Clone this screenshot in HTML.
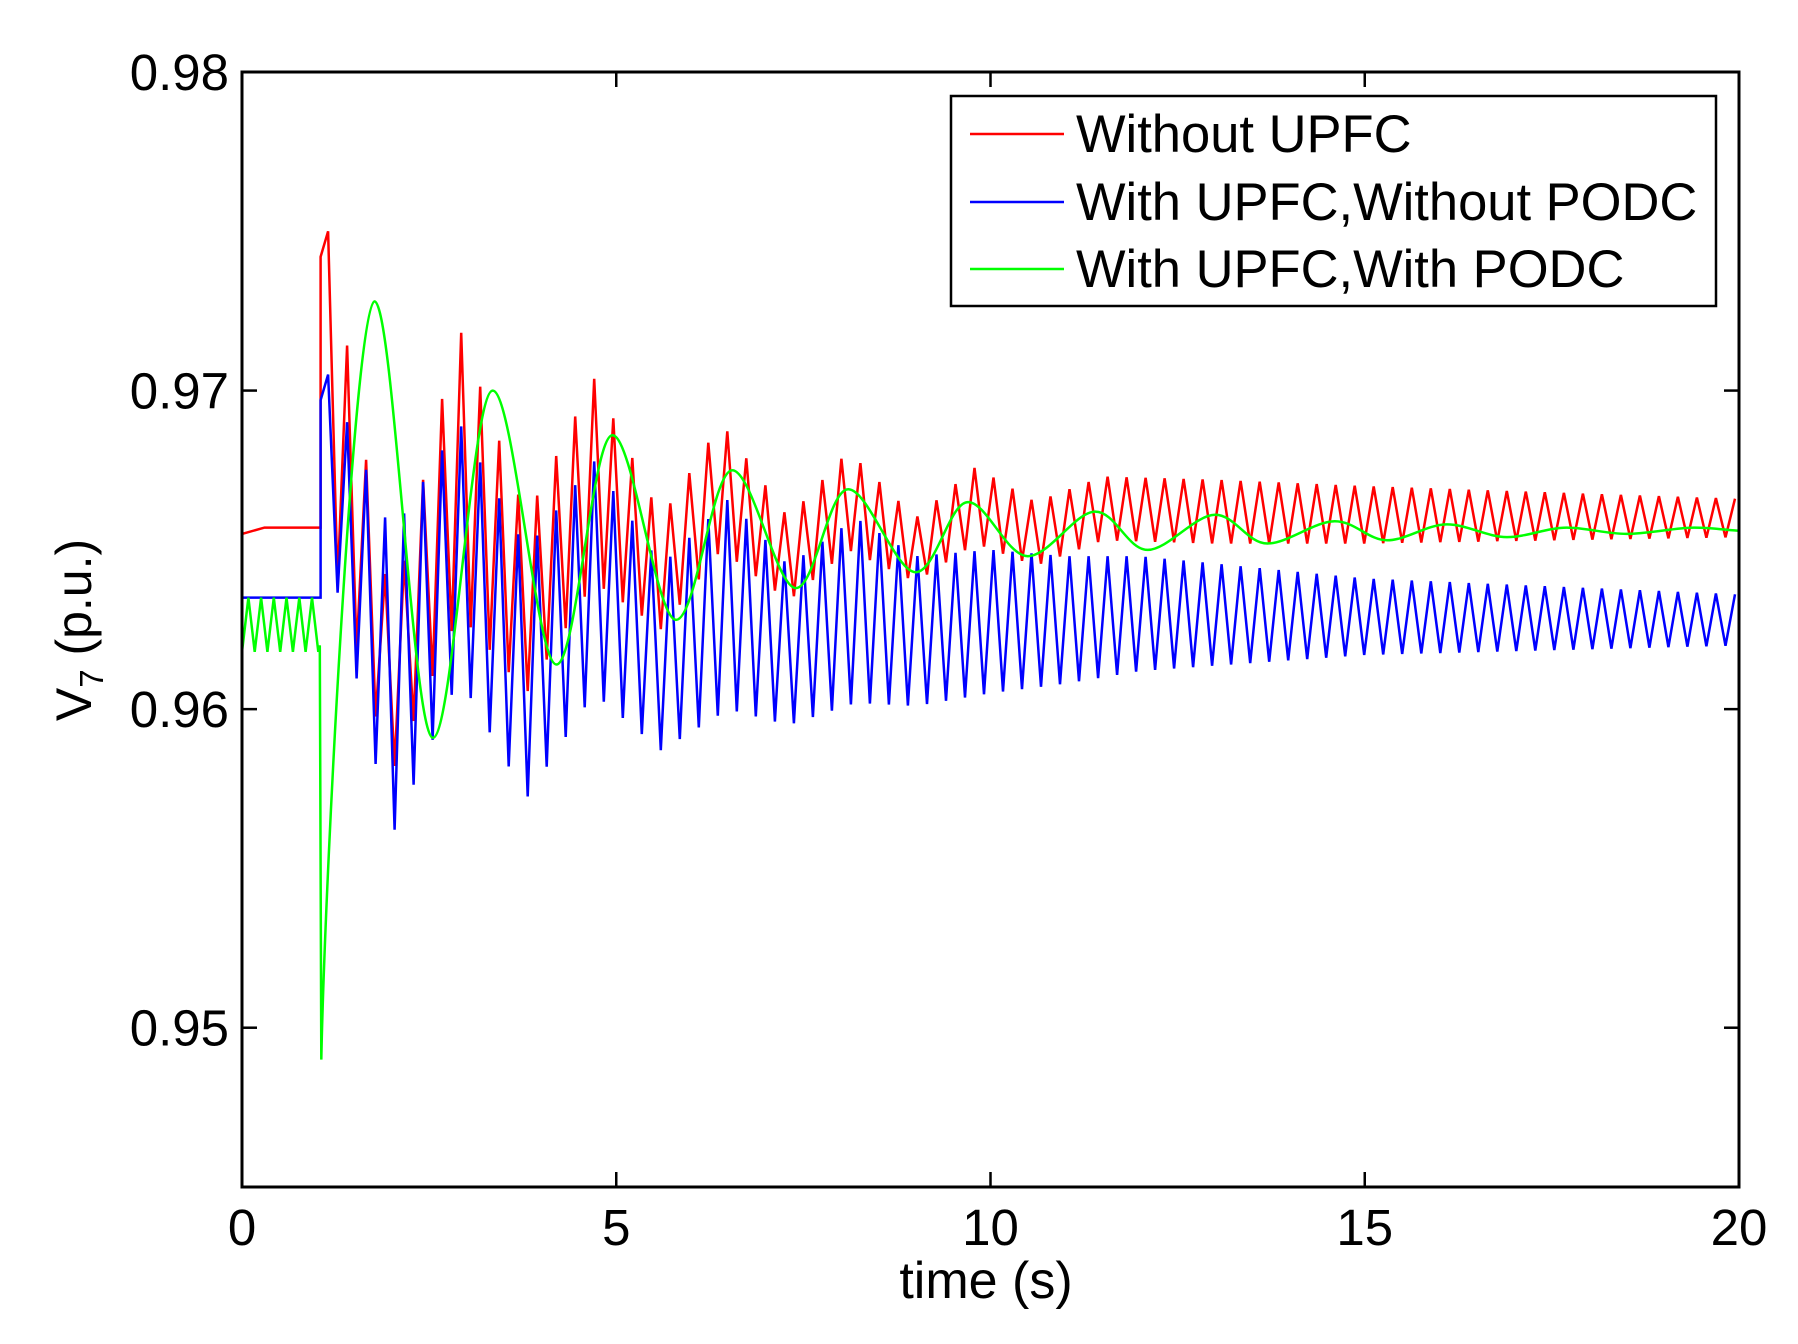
<!DOCTYPE html>
<html><head><meta charset="utf-8"><style>
html,body{margin:0;padding:0;background:#fff;}
svg{display:block;font-family:"Liberation Sans",Arial,sans-serif;}
</style></head><body>
<svg id="chart" width="1798" height="1344" viewBox="0 0 1798 1344" xmlns="http://www.w3.org/2000/svg">
<rect x="0" y="0" width="1798" height="1344" fill="#fff"/>
<g id="series"></g>
<g id="axes"></g>
<g>
<rect x="951" y="96" width="765" height="210" fill="#fff" stroke="#000" stroke-width="2.5"/>
<line x1="970" y1="134" x2="1064" y2="134" stroke="#f00" stroke-width="2.5"/>
<text x="1076" y="152" font-size="52.5">Without UPFC</text>
<line x1="970" y1="202" x2="1064" y2="202" stroke="#00f" stroke-width="2.5"/>
<text x="1076" y="220" font-size="52.5">With UPFC,Without PODC</text>
<line x1="970" y1="269" x2="1064" y2="269" stroke="#0f0" stroke-width="2.5"/>
<text x="1076" y="287" font-size="52.5">With UPFC,With PODC</text>
</g>
<text x="986" y="1298" font-size="52" text-anchor="middle">time (s)</text>
<text transform="translate(91,630) rotate(-90)" font-size="50" text-anchor="middle">V<tspan font-size="33" dy="12">7</tspan><tspan dy="-12"> (p.u.)</tspan></text>
</svg>
<script>
const xTicks=[0,5,10,15,20];
const yTicks=[0.95,0.96,0.97,0.98];
const yTickLabels=["0.95","0.96","0.97","0.98"];
// green (with PODC) key extrema after fault
const greenT=[1.04,1.06,1.77,2.55,3.35,4.2,4.95,5.8,6.55,7.4,8.1,9.0,9.7,10.5,11.4,12.1,13.0,13.7,14.6,15.3,16.1,16.9,17.7,18.5,19.4,20];
const greenV=[0.9620,0.9490,0.9728,0.9591,0.9700,0.9614,0.9686,0.9628,0.9675,0.9638,0.9669,0.9643,0.9665,0.9648,0.9662,0.9650,0.9661,0.9652,0.9659,0.9653,0.9658,0.9654,0.9657,0.9655,0.9657,0.9656];
// red (without UPFC) fast-oscillation envelope
const redT=[1.15,2.0,2.9,3.8,4.7,5.6,6.4,7.3,8.1,9.0,9.8,10.6,11.5,13,15,20];
const redMax=[0.9750,0.9630,0.9720,0.9660,0.9704,0.9660,0.9690,0.9660,0.9681,0.9660,0.9676,0.9665,0.9673,0.9672,0.9670,0.9666];
const redMin=[0.9650,0.9580,0.9630,0.9605,0.9640,0.9625,0.9650,0.9634,0.9650,0.9640,0.9652,0.9645,0.9653,0.9652,0.9652,0.9654];
// blue (with UPFC, without PODC) envelope
const blueT=[1.15,2.0,2.9,3.8,4.7,5.6,6.5,7.3,8.2,9,10,11,12,15,20];
const blueMax=[0.9705,0.9655,0.9690,0.9650,0.9678,0.9645,0.9666,0.9645,0.9660,0.9648,0.9650,0.9648,0.9648,0.9641,0.9636];
const blueMin=[0.9650,0.9560,0.9610,0.9572,0.9605,0.9587,0.9600,0.9595,0.9602,0.9601,0.9605,0.9608,0.9612,0.9617,0.9620];
const preRed=[0.9655,0.9657], preBlue=0.9635, preGreen=[0.9618,0.9635];
const faultT=1.05, fastPeriod=0.254;

const L=242,R=1739,T=72,B=1187,X0=0,X1=20,Y0=0.945,Y1=0.98;
const sx=t=>L+(t-X0)/(X1-X0)*(R-L);
const sy=v=>B-(v-Y0)/(Y1-Y0)*(B-T);
const NS='http://www.w3.org/2000/svg';
function mk(tag,attrs,parent){const e=document.createElementNS(NS,tag);for(const k in attrs)e.setAttribute(k,attrs[k]);parent.appendChild(e);return e;}
function lerp(ts,vs,t){if(t<=ts[0])return vs[0];for(let i=1;i<ts.length;i++){if(t<=ts[i]){const f=(t-ts[i-1])/(ts[i]-ts[i-1]);return vs[i-1]+f*(vs[i]-vs[i-1]);}}return vs[vs.length-1];}
const sg=document.getElementById('series');
function zig(ts,mx,mn,startT,jumpFrom){
  let pts=[[sx(0),sy(jumpFrom[0])],[sx(0.3),sy(jumpFrom[1])],[sx(faultT),sy(jumpFrom[1])]];
  pts.push([sx(faultT),sy(mx[0]-0.0008)]);
  pts.push([sx(ts[0]),sy(mx[0])]);
  let t=ts[0]+fastPeriod/2,lo=true;
  while(t<=20){pts.push([sx(t),sy(lo?lerp(ts,mn,t):lerp(ts,mx,t))]);lo=!lo;t+=fastPeriod/2;}
  return pts.map((p,i)=>(i?'L':'M')+p[0].toFixed(1)+' '+p[1].toFixed(1)).join('');
}
const red=mk('path',{d:zig(redT,redMax,redMin,1.15,preRed),fill:'none',stroke:'#f00','stroke-width':2.5},sg);


const blue=mk('path',{d:zig(blueT,blueMax,blueMin,1.15,[preBlue,preBlue]),fill:'none',stroke:'#00f','stroke-width':2.5},sg);


// green
let gd='';let t=0,hi=false;gd+='M'+sx(0)+' '+sy(preGreen[0]);
while(t<faultT-0.08){t+=0.085;gd+='L'+sx(t).toFixed(1)+' '+sy(hi?preGreen[0]:preGreen[1]).toFixed(1);hi=!hi;}
const gp=greenT.map((tt,i)=>[sx(tt),sy(greenV[i])]);
gd+='L'+gp[0][0].toFixed(1)+' '+gp[0][1].toFixed(1);
for(let i=0;i<gp.length-1;i++){const p0=gp[Math.max(0,i-1)],p1=gp[i],p2=gp[i+1],p3=gp[Math.min(gp.length-1,i+2)];
  if(i===0){gd+='L'+p2[0].toFixed(1)+' '+p2[1].toFixed(1);continue;}
  const c1=[p1[0]+(p2[0]-p0[0])/6,p1[1]],c2=[p2[0]-(p3[0]-p1[0])/6,p2[1]];
  if(i===1){c1[0]=p1[0]+4;c1[1]=p1[1]-200;}
  gd+='C'+c1[0].toFixed(1)+' '+c1[1].toFixed(1)+' '+c2[0].toFixed(1)+' '+c2[1].toFixed(1)+' '+p2[0].toFixed(1)+' '+p2[1].toFixed(1);}
const green=mk('path',{d:gd,fill:'none',stroke:'#0f0','stroke-width':2.5},sg);


// axes
const ag=document.getElementById('axes');
const box=mk('rect',{x:L,y:T,width:R-L,height:B-T,fill:'none',stroke:'#000','stroke-width':3},ag);


xTicks.forEach(v=>{const x=sx(v);
  mk('line',{x1:x,y1:B,x2:x,y2:B-15,stroke:'#000','stroke-width':2.5},ag);
  mk('line',{x1:x,y1:T,x2:x,y2:T+15,stroke:'#000','stroke-width':2.5},ag);
  const tx=mk('text',{x:x,y:1245,'font-size':51,'text-anchor':'middle'},ag);tx.textContent=String(v);
  
  
});
yTicks.forEach((v,i)=>{const y=sy(v);
  mk('line',{x1:L,y1:y,x2:L+15,y2:y,stroke:'#000','stroke-width':2.5},ag);
  mk('line',{x1:R,y1:y,x2:R-15,y2:y,stroke:'#000','stroke-width':2.5},ag);
  const tx=mk('text',{x:229,y:y+18,'font-size':51,'text-anchor':'end'},ag);tx.textContent=yTickLabels[i];
  
  
});
</script>
</body></html>
